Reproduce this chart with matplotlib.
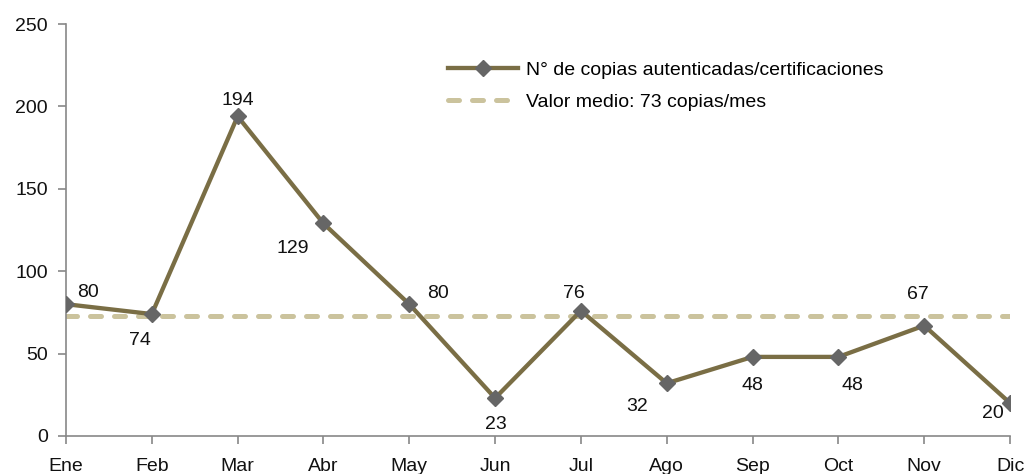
import matplotlib
matplotlib.use("Agg")
import matplotlib.pyplot as plt

months = ['Ene', 'Feb', 'Mar', 'Abr', 'May', 'Jun', 'Jul', 'Ago', 'Sep', 'Oct', 'Nov', 'Dic']
copies = [80, 74, 194, 129, 80, 23, 76, 32, 48, 48, 67, 20]
mean_value = 73
# label offsets (pixels) relative to each marker
label_offsets = [(22, 12), (-12, -26), (0, 16), (-31, -25), (29, 11), (1, -26),
                 (-7, 17), (-30, -23), (0, -29), (14, -29), (-6, 31), (-17, -10)]

plt.rcParams['font.family'] = ['Liberation Sans', 'DejaVu Sans']
plt.rcParams['font.size'] = 14

fig = plt.figure(figsize=(10.28, 4.74), dpi=100)
ax = fig.add_axes([0.0642, 0.0802, 0.9183, 0.869])

x = list(range(len(months)))
ax.plot(x, copies, color='#7a6e45', lw=3.1, marker='D', markersize=8,
        markerfacecolor='#666666', markeredgecolor='#666666',
        label='N° de copias autenticadas/certificaciones', zorder=3)
ax.plot(x, [mean_value] * len(x), color='#cbc39d', lw=3.6, dashes=(2.2, 2.6),
        dash_capstyle='round', label='Valor medio: 73 copias/mes', zorder=2)

for xi, v, off in zip(x, copies, label_offsets):
    ax.annotate(str(v), (xi, v), xytext=off, textcoords='offset pixels',
                ha='center', va='center', fontsize=14, color='#111111')

ax.set_xlim(0, 11)
ax.set_ylim(0, 250)
ax.set_yticks(range(0, 251, 50))
ax.set_xticks(x)
ax.set_xticklabels(months)
for s in ['top', 'right']:
    ax.spines[s].set_visible(False)
for s in ['left', 'bottom']:
    ax.spines[s].set_color('#888888')
    ax.spines[s].set_linewidth(1.2)
ax.tick_params(axis='both', colors='#888888', length=6, width=1.2, labelcolor='#111111')
ax.tick_params(axis='x', pad=10)
ax.tick_params(axis='y', pad=7)

ax.legend(loc='upper left', bbox_to_anchor=(0.405, 0.91), frameon=False,
          handlelength=3.6, fontsize=14, labelspacing=0.75, handletextpad=0.4,
          borderpad=0, borderaxespad=0)

fig.savefig('out.png', dpi=100)
